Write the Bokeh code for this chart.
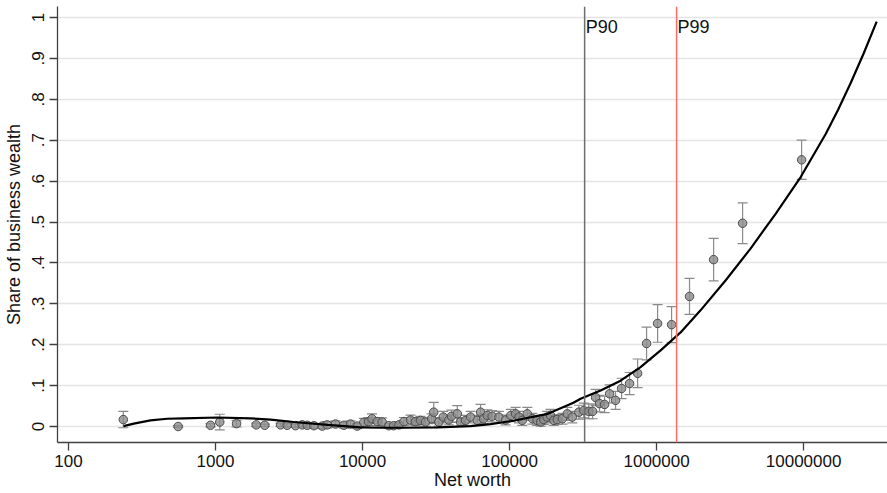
from bokeh.plotting import figure
from bokeh.models import FixedTicker, Span, Label, Whisker, ColumnDataSource, TeeHead
from bokeh.embed import file_html
from bokeh.resources import INLINE

# ---- data ----
net_worth = [236, 557, 925, 1069, 1390, 1892, 2163, 2770, 3070, 3500, 3890, 4210, 4670, 5320,
             5750, 6550, 7460, 8280, 9200, 10200, 11000, 11600, 12600, 13600, 15100, 16300,
             17700, 19100, 21200, 22900, 24800, 26800, 29500, 30500, 33000, 35400, 38600,
             40300, 44100, 46400, 50200, 54300, 60300, 63500, 66500, 70500, 76200, 84600,
             94000, 102000, 110000, 116000, 122000, 132000, 143000, 154000, 163000, 171000,
             180000, 190000, 200000, 211000, 229000, 247000, 267000, 296000, 320000, 346000,
             367000, 385000, 409000, 443000, 479000, 526000, 578000, 655000, 743000, 855000,
             1016000, 1265000, 1675000, 2443000, 3846000, 9690000]
share = [0.017, 0.000, 0.003, 0.011, 0.007, 0.004, 0.003, 0.004, 0.003, 0.002, 0.004, 0.003,
         0.002, 0.001, 0.004, 0.006, 0.003, 0.006, 0.001, 0.010, 0.012, 0.019, 0.012, 0.011,
         0.002, 0.002, 0.004, 0.012, 0.016, 0.012, 0.015, 0.011, 0.019, 0.035, 0.011, 0.023,
         0.016, 0.025, 0.031, 0.011, 0.015, 0.023, 0.015, 0.035, 0.019, 0.027, 0.025, 0.023,
         0.016, 0.027, 0.031, 0.023, 0.015, 0.031, 0.019, 0.015, 0.011, 0.017, 0.023, 0.027,
         0.015, 0.017, 0.019, 0.031, 0.023, 0.035, 0.039, 0.037, 0.037, 0.071, 0.056, 0.054,
         0.080, 0.064, 0.093, 0.105, 0.130, 0.203, 0.252, 0.249, 0.318, 0.408, 0.497, 0.652]
ci_half = [0.020, 0.002, 0.004, 0.019, 0.008, 0.004, 0.003, 0.004, 0.004, 0.004, 0.005, 0.005,
           0.006, 0.006, 0.008, 0.008, 0.007, 0.008, 0.006, 0.010, 0.010, 0.012, 0.010, 0.010,
           0.006, 0.006, 0.007, 0.010, 0.012, 0.010, 0.010, 0.010, 0.012, 0.024, 0.010, 0.014,
           0.012, 0.015, 0.020, 0.010, 0.012, 0.014, 0.012, 0.019, 0.012, 0.014, 0.014, 0.014,
           0.012, 0.015, 0.016, 0.014, 0.012, 0.016, 0.013, 0.012, 0.010, 0.012, 0.014, 0.015,
           0.012, 0.012, 0.013, 0.016, 0.014, 0.017, 0.018, 0.018, 0.018, 0.020, 0.020, 0.020,
           0.022, 0.022, 0.025, 0.027, 0.035, 0.040, 0.046, 0.044, 0.044, 0.052, 0.050, 0.048]

fit_net_worth = [237, 278, 361, 469, 605, 1030, 1730, 2370, 3400, 5780, 9690, 13200, 19000,
                 32400, 54300, 74300, 106000, 182000, 272000, 304000, 416000, 569000, 778000,
                 1065000, 1456000, 1990000, 2944000, 4355000, 6450000, 9550000, 14130000,
                 17200000, 20900000, 25600000, 31400000]
fit_share = [0.001, 0.007, 0.015, 0.019, 0.020, 0.022, 0.020, 0.017, 0.011, 0.004, -0.002,
             -0.003, -0.003, -0.002, 0.001, 0.006, 0.014, 0.031, 0.058, 0.068, 0.088, 0.112,
             0.145, 0.186, 0.230, 0.284, 0.357, 0.435, 0.520, 0.610, 0.715, 0.775, 0.840,
             0.912, 0.990]

x_ticks = [100, 1000, 10000, 100000, 1000000, 10000000]
x_tick_labels = ["100", "1000", "10000", "100000", "1000000", "10000000"]
y_ticks = [0, 0.1, 0.2, 0.3, 0.4, 0.5, 0.6, 0.7, 0.8, 0.9, 1.0]
y_tick_labels = ["0", ".1", ".2", ".3", ".4", ".5", ".6", ".7", ".8", ".9", "1"]
percentile_values = [324000, 1368000]
percentile_names = ["P90", "P99"]
percentile_colors = ["#6e6e6e", "#ff6b6b"]

FONT = "Liberation Sans"

p = figure(width=887, height=493, x_axis_type="log",
           x_range=(84.2, 37200000), y_range=(-0.0391, 1.0269),
           min_border_left=57, min_border_right=0, min_border_top=6, min_border_bottom=51,
           output_backend="svg", toolbar_location=None)
p.outline_line_color = None
p.background_fill_color = "white"
p.border_fill_color = "white"

# grid
p.xgrid.grid_line_color = None
p.ygrid.grid_line_color = "#e4e4e4"
p.ygrid.grid_line_width = 1.5
p.ygrid.ticker = FixedTicker(ticks=y_ticks)

# axes
p.xaxis.ticker = FixedTicker(ticks=x_ticks, minor_ticks=[])
p.xaxis.major_label_overrides = {t: l for t, l in zip(x_ticks, x_tick_labels)}
p.yaxis.ticker = FixedTicker(ticks=y_ticks, minor_ticks=[])
p.yaxis.major_label_overrides = {t: l for t, l in zip(y_ticks, y_tick_labels)}
p.yaxis.major_label_orientation = "vertical"
for ax in (p.xaxis, p.yaxis):
    ax.axis_line_color = "#404040"
    ax.axis_line_width = 1.3
    ax.major_tick_line_color = "#404040"
    ax.major_tick_line_width = 1.3
    ax.major_tick_out = 8
    ax.major_tick_in = 0
    ax.minor_tick_line_color = None
    ax.major_label_text_font = FONT
    ax.major_label_text_font_size = "17px"
    ax.major_label_text_color = "#111111"
    ax.axis_label_text_font = FONT
    ax.axis_label_text_font_size = "18px"
    ax.axis_label_text_font_style = "normal"
    ax.axis_label_text_color = "#111111"
p.xaxis.axis_label = "Net worth"
p.yaxis.axis_label = "Share of business wealth"
p.xaxis.major_label_standoff = 4
p.xaxis.axis_label_standoff = 0
p.yaxis.major_label_standoff = 5
p.yaxis.axis_label_standoff = 6

# percentile lines
for v, name, col in zip(percentile_values, percentile_names, percentile_colors):
    p.add_layout(Span(location=v, dimension="height", line_color=col, line_width=1.5))
    p.add_layout(Label(x=v, y=0.977, x_offset=1, text=name, text_baseline="middle",
                       text_font=FONT, text_font_size="18px", text_color="#111111"))

# error bars
src = ColumnDataSource(dict(
    x=net_worth, y=share,
    lower=[s - e for s, e in zip(share, ci_half)],
    upper=[s + e for s, e in zip(share, ci_half)],
))
wcol = "#8a8a8a"
w = Whisker(base="x", lower="lower", upper="upper", source=src, dimension="height",
            line_color=wcol, line_width=1.2,
            upper_head=TeeHead(size=10, line_color=wcol, line_width=1.2),
            lower_head=TeeHead(size=10, line_color=wcol, line_width=1.2))
p.add_layout(w)

# points
p.scatter("x", "y", source=src, size=8.5, fill_color="#8c8c8c", fill_alpha=0.8,
          line_color="#4d4d4d", line_width=1)

# fitted curve
p.line(fit_net_worth, fit_share, line_color="black", line_width=2.2)

open("out.html", "w").write(file_html(p, INLINE))
